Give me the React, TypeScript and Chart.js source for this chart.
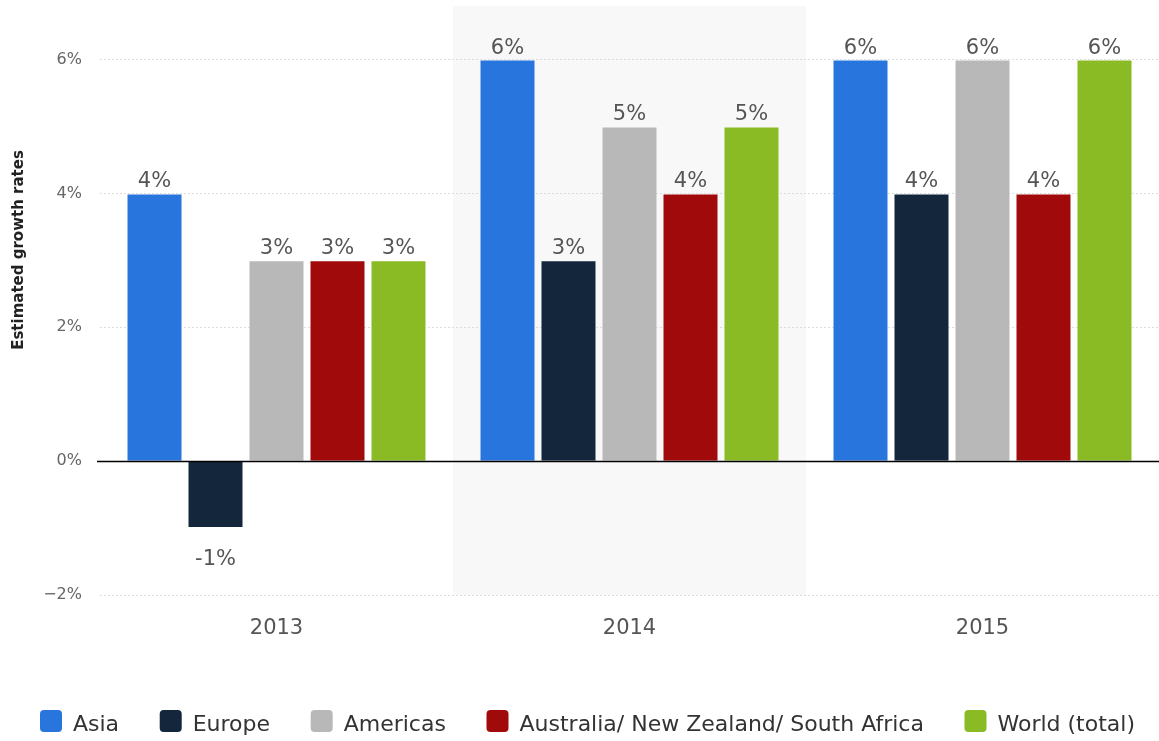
import React, { useEffect, useRef } from "react";
import { Chart, registerables } from "chart.js";

Chart.register(...registerables);

const categories = ["2013", "2014", "2015"];
const seriesNames = ["Asia", "Europe", "Americas", "Australia/ New Zealand/ South Africa", "World (total)"];
const asia = [4, 6, 6];
const europe = [-1, 3, 4];
const americas = [3, 5, 6];
const australia = [3, 4, 4];
const world = [3, 5, 6];
const colors = ["#2876dd", "#13263c", "#b8b8b8", "#a10a0a", "#8aba24"];
const yTicks = [-2, 0, 2, 4, 6];
const yTitle = "Estimated growth rates";
const highlightIndex = 1;

const FONT = "'DejaVu Sans', 'Open Sans', sans-serif";

const bgPlugin = {
  id: "bgBand",
  beforeDraw(chart: any) {
    const { ctx, chartArea, scales } = chart;
    const x = scales.x;
    const w = x.getPixelForValue(1) - x.getPixelForValue(0);
    const cx = x.getPixelForValue(highlightIndex);
    ctx.save();
    ctx.fillStyle = "#f8f8f8";
    ctx.fillRect(cx - w / 2, chartArea.top, w, chartArea.bottom - chartArea.top);
    ctx.restore();
  },
  afterDatasetsDraw(chart: any) {
    const { ctx, chartArea, scales } = chart;
    const y0 = Math.round(scales.y.getPixelForValue(0)) + 0.5;
    ctx.save();
    ctx.strokeStyle = "#000";
    ctx.lineWidth = 1.5;
    ctx.beginPath();
    ctx.moveTo(chartArea.left - 3, y0);
    ctx.lineTo(chartArea.right, y0);
    ctx.stroke();
    // data labels
    ctx.font = `21px ${FONT}`;
    ctx.fillStyle = "#555";
    ctx.textAlign = "center";
    ctx.textBaseline = "alphabetic";
    chart.data.datasets.forEach((ds: any, di: number) => {
      const meta = chart.getDatasetMeta(di);
      meta.data.forEach((bar: any, i: number) => {
        const v = ds.data[i];
        const label = `${v}%`;
        if (v >= 0) {
          ctx.fillText(label, bar.x, bar.y - 6);
        } else {
          ctx.fillText(label, bar.x, bar.y + 37);
        }
      });
    });
    // y title
    ctx.save();
    ctx.translate(19, 250);
    ctx.rotate(-Math.PI / 2);
    ctx.font = `bold 15px 'DejaVu Sans', sans-serif`;
    ctx.fillStyle = "#222";
    ctx.textAlign = "center";
    ctx.textBaseline = "middle";
    ctx.fillText(yTitle, 0, 0);
    ctx.restore();
    ctx.restore();
  },
  afterDraw(chart: any) {
    const { ctx } = chart;
    ctx.save();
    ctx.font = `22px ${FONT}`;
    const box = 22;
    const gapText = 11;
    const left = 40;
    const right = 1135;
    const widths = seriesNames.map((n) => ctx.measureText(n).width);
    const itemsW = widths.reduce((a, w) => a + box + gapText + w, 0);
    const gapItem = (right - left - itemsW) / (seriesNames.length - 1);
    let x = left;
    const yTop = 710;
    seriesNames.forEach((n, i) => {
      ctx.fillStyle = colors[i];
      ctx.beginPath();
      (ctx as any).roundRect(x, yTop, box, box, 4);
      ctx.fill();
      ctx.fillStyle = "#333";
      ctx.textAlign = "left";
      ctx.textBaseline = "alphabetic";
      ctx.fillText(n, x + box + gapText, yTop + 21);
      x += box + gapText + widths[i] + gapItem;
    });
    ctx.restore();
  },
};

export default function App() {
  const ref = useRef<HTMLCanvasElement>(null);
  useEffect(() => {
    const seriesData = [asia, europe, americas, australia, world];
    const chart = new Chart(ref.current!, {
      type: "bar",
      data: {
        labels: categories,
        datasets: seriesNames.map((name, i) => ({
          label: name,
          data: seriesData[i],
          backgroundColor: colors[i],
          borderColor: "rgba(255,255,255,0.35)",
          borderWidth: 1,
          categoryPercentage: 0.864,
          barPercentage: 0.918,
        })),
      },
      options: {
        animation: false,
        responsive: false,
        maintainAspectRatio: false,
        layout: { padding: { top: 6, right: 0, left: 0, bottom: 96 } },
        plugins: {
          tooltip: { enabled: false },
          legend: { display: false },
        },
        scales: {
          x: {
            grid: { display: false },
            border: { display: false },
            ticks: { color: "#555", font: { family: FONT, size: 21 }, padding: 13 },
            afterFit: (s: any) => {
              s.height = 50;
              s.paddingLeft = 0;
              s.paddingRight = 0;
            },
          },
          y: {
            min: -2,
            max: 6.8,
            afterBuildTicks: (s: any) => {
              s.ticks = yTicks.map((v) => ({ value: v }));
            },
            grid: {
              color: (c: any) => (c.tick && c.tick.value === 0 ? "rgba(0,0,0,0)" : "#dcdcdc"),
              drawTicks: false,
            },
            border: { display: false, dash: [2, 2] },
            ticks: {
              color: "#666",
              padding: 18,
              font: { family: FONT, size: 16 },
              callback: (v: any) => (v < 0 ? `\u2212${Math.abs(v)}%` : `${v}%`),
            },
            afterFit: (s: any) => {
              s.width = 100;
              s.paddingTop = 0;
              s.paddingBottom = 0;
            },
          },
        },
      },
      plugins: [bgPlugin],
    } as any);
    return () => chart.destroy();
  }, []);
  return (
    <div style={{ position: "fixed", left: 0, top: 0, width: 1159, height: 741, background: "#fff" }}>
      <canvas ref={ref} width={1159} height={741} style={{ width: 1159, height: 741 }} />
    </div>
  );
}
